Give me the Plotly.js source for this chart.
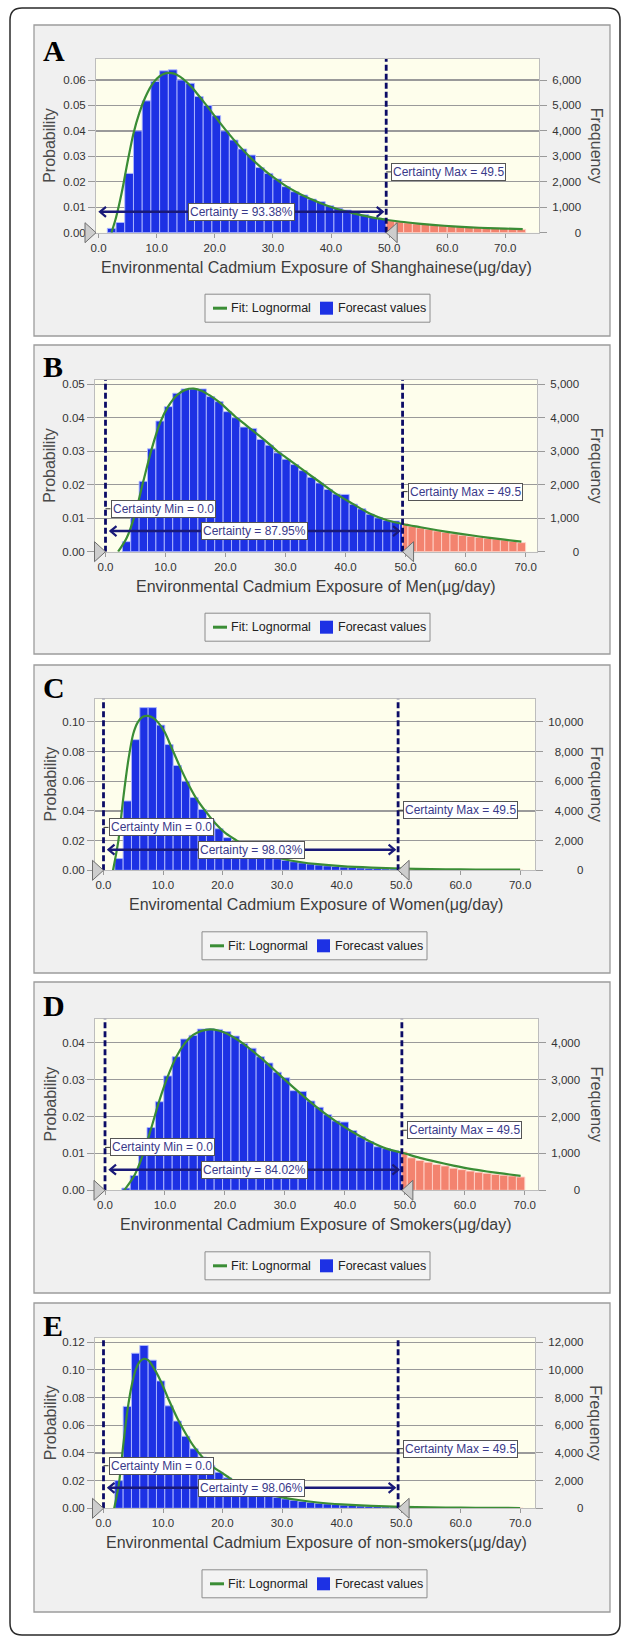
<!DOCTYPE html>
<html><head><meta charset="utf-8">
<script src="https://cdn.plot.ly/plotly-3.0.1.min.js"></script>
<style>html,body{margin:0;padding:0;background:#fff;}#chart{width:625px;height:1640px;}</style>
</head><body><div id="chart"></div>
<script>
// ---------------- DATA ----------------
const panelLetters = ['A','B','C','D','E'];
const xTitles = [
  'Environmental Cadmium Exposure of Shanghainese(\u03bcg/day)',
  'Environmental Cadmium Exposure of Men(\u03bcg/day)',
  'Enviromental Cadmium Exposure of Women(\u03bcg/day)',
  'Environmental Cadmium Exposure of Smokers(\u03bcg/day)',
  'Environmental Cadmium Exposure of non-smokers(\u03bcg/day)'
];
const certaintyMin = [null, 0.0, 0.0, 0.0, 0.0];
const certaintyMax = [49.5, 49.5, 49.5, 49.5, 49.5];
const certaintyPct = ['93.38%', '87.95%', '98.03%', '84.02%', '98.06%'];
const trials = 100000;               // Frequency = Probability x trials
const binOrigin = [0, 0, 0.5, 0, 0.5];
const binWidth  = [1.5, 1.4, 1.4, 1.4, 1.4];
const legendLabels = ['Fit: Lognormal', 'Forecast values'];

// histogram probabilities, one value per bin
const probA = [0, 0.0017, 0.004, 0.0233, 0.040, 0.0518, 0.0594, 0.0636, 0.064, 0.060,
  0.0587, 0.0535, 0.050, 0.046, 0.040, 0.0364, 0.0329, 0.0305, 0.0256, 0.0233,
  0.0211, 0.0181, 0.0161, 0.0148, 0.0132, 0.0122, 0.0106, 0.0096, 0.0089, 0.0083,
  0.0072, 0.006, 0.0056, 0.0047, 0.0043, 0.0039, 0.0035, 0.0033, 0.003, 0.0028,
  0.0025, 0.0024, 0.0022, 0.0021, 0.002, 0.0018, 0.0017, 0.0016, 0.0013];
const probB = [0, 0, 0.003, 0.011, 0.021, 0.0307, 0.039, 0.0433, 0.0473, 0.0486,
  0.0486, 0.0486, 0.0463, 0.0448, 0.0418, 0.040, 0.0372, 0.0368, 0.0335, 0.0318,
  0.0295, 0.0276, 0.026, 0.0242, 0.0222, 0.0205, 0.0186, 0.0172, 0.0171, 0.0142,
  0.0128, 0.0112, 0.0101, 0.0093, 0.0092, 0.0084, 0.0076, 0.0071, 0.0067, 0.0062,
  0.0058, 0.0053, 0.0049, 0.0046, 0.0043, 0.004, 0.0038, 0.0035, 0.0031, 0.0027];
const probC = [0, 0.0079, 0.0467, 0.088, 0.1096, 0.1096, 0.0978, 0.0847, 0.0706, 0.060,
  0.049, 0.041, 0.034, 0.028, 0.022, 0.018, 0.015, 0.0125, 0.0105, 0.009,
  0.0078, 0.0067, 0.0058, 0.005, 0.0043, 0.0036, 0.003, 0.0026, 0.0022, 0.0019,
  0.0016, 0.0014, 0.0012, 0.001, 0.0009, 0.0008, 0.0007, 0.0006, 0.0005, 0.0005,
  0.0004, 0.0004, 0.0003, 0.0003, 0.0003, 0.0002, 0.0002, 0.0002, 0.0001, 0.0001];
const probD = [0, 0, 0.0006, 0.004, 0.0095, 0.017, 0.024, 0.031, 0.0362, 0.041,
  0.042, 0.0437, 0.0438, 0.0436, 0.043, 0.0418, 0.0398, 0.0385, 0.0362, 0.0345,
  0.032, 0.0305, 0.027, 0.0268, 0.0242, 0.0225, 0.0205, 0.0188, 0.0185, 0.0162,
  0.0145, 0.0132, 0.0118, 0.0113, 0.0108, 0.0104, 0.0088, 0.0081, 0.0076, 0.007,
  0.0066, 0.006, 0.0056, 0.0052, 0.0049, 0.0046, 0.0043, 0.0041, 0.0039, 0.0036];
const probE = [0, 0.02, 0.0736, 0.112, 0.1176, 0.107, 0.092, 0.074, 0.063, 0.052,
  0.043, 0.037, 0.031, 0.026, 0.022, 0.018, 0.015, 0.013, 0.011, 0.0095,
  0.008, 0.0068, 0.0058, 0.005, 0.0043, 0.0037, 0.0032, 0.0027, 0.0023, 0.002,
  0.0017, 0.0015, 0.0013, 0.0011, 0.001, 0.0008, 0.0007, 0.0006, 0.0005, 0.0005,
  0.0004, 0.0004, 0.0003, 0.0003, 0.0003, 0.0002, 0.0002, 0.0002, 0.0001, 0.0001];

// fitted lognormal curves
const fitAx = [2.2,3,4,5,6,7,8,9,10,11,12,13,14,15,16,17,18,20,22,24,26,28,30,32,34,36,38,40,42,44,46,48,50,52,55,58,61,64,67,70,73];
const fitAy = [0,0.006,0.016,0.028,0.039,0.047,0.053,0.0575,0.0605,0.0622,0.0628,0.0625,0.0613,0.0595,0.0572,0.0545,0.0517,0.0458,0.040,0.0346,0.0298,0.0256,0.0219,0.0187,0.016,0.0137,0.0118,0.0101,0.0087,0.0075,0.0065,0.0056,0.0049,0.0043,0.0036,0.003,0.0025,0.0021,0.0018,0.0016,0.0014];
const fitBx = [2.1,3.5,4.9,6.3,7.7,9.1,10.5,11.9,13.3,14.7,16.1,17.5,18.9,20.3,21.7,23.1,24.5,25.9,27.3,28.7,30.1,32.9,35.7,38.5,41.3,44.1,46.9,49.7,52.5,55.3,58.1,60.9,63.7,66.5,69.3];
const fitBy = [0,0.004,0.011,0.021,0.0307,0.0385,0.0435,0.0467,0.0483,0.0487,0.048,0.0465,0.0447,0.0425,0.0402,0.0382,0.0362,0.0342,0.0321,0.0299,0.0281,0.0244,0.0208,0.0172,0.0142,0.0113,0.0094,0.0082,0.0073,0.0064,0.0056,0.0049,0.0042,0.0036,0.003];
const fitCx = [1.6,2.5,3.3,4.2,5,5.8,6.6,7.5,8.4,9.3,10.3,11.5,12.7,14,15.5,17.1,18.7,20.5,22.4,24.5,27,30,33,36,40,45,50,55,60,65,70];
const fitCy = [0,0.02,0.048,0.075,0.092,0.1,0.1035,0.104,0.1025,0.099,0.093,0.082,0.071,0.06,0.049,0.04,0.032,0.025,0.02,0.015,0.011,0.0078,0.0056,0.0041,0.0028,0.0018,0.0012,0.0008,0.0006,0.0005,0.0004];
const fitDx = [3.2,4.9,6.3,7.7,9.1,10.5,11.9,13.3,14.7,16.1,17.5,18.9,20.3,21.7,23.1,24.5,25.9,27.3,28.7,30.1,32.9,35.7,38.5,41.3,44.1,46.9,49.7,52.5,55.3,58.1,60.9,63.7,66.5,69.3];
const fitDy = [0,0.004,0.0095,0.0168,0.0245,0.031,0.0362,0.0398,0.0421,0.0432,0.0436,0.0433,0.0425,0.0412,0.0397,0.0379,0.036,0.034,0.0319,0.0298,0.0258,0.022,0.0187,0.0158,0.0133,0.0113,0.0101,0.0088,0.0077,0.0067,0.0058,0.0051,0.0045,0.0039];
const fitEx = [1.8,2.6,3.3,4.0,4.7,5.4,6.1,6.8,7.5,8.2,9.6,11,12.4,13.8,15.2,16.6,18,19.4,20.8,22.2,24,26,28,30,33,36,40,45,50,55,60,65,70];
const fitEy = [0,0.018,0.045,0.07,0.088,0.1,0.106,0.108,0.107,0.103,0.092,0.078,0.065,0.054,0.0445,0.037,0.031,0.027,0.023,0.019,0.0155,0.0125,0.0098,0.0079,0.0058,0.0042,0.0028,0.0017,0.0011,0.0007,0.0005,0.0003,0.0002];

// ---------------- LAYOUT / STYLE ----------------
const W = 625, H = 1640;
const X = px => px / W, Y = py => 1 - py / H;
const FONT = 'Liberation Sans, Arial, Helvetica, sans-serif';
const SERIF = 'Liberation Serif, Times New Roman, serif';
const BLUE = '#1d31e4', RED = '#f3836f', GREEN = '#3a8d35', NAVY = '#0c0c66';
const LABEL_TXT = '#3a3a8a';
const probs = [probA, probB, probC, probD, probE];
const fits = [[fitAx, fitAy], [fitBx, fitBy], [fitCx, fitCy], [fitDx, fitDy], [fitEx, fitEy]];
const geo = [
  {box:[34,25,610,336],   plot:[96,59,539,232.7],     xr:[-0.45,75.8], yr:[0,0.06825], ydt:0.01, fdt:1000, legX:205, letterY:50},
  {box:[34,345,610,654],  plot:[95,380,537,551.7],    xr:[-1.75,71.9], yr:[0,0.05125], ydt:0.01, fdt:1000, legX:205, letterY:367},
  {box:[34,665,610,973],  plot:[95,698.7,535,870.3],  xr:[-1.43,72.5], yr:[0,0.1156],  ydt:0.02, fdt:2000, legX:202, letterY:688},
  {box:[34,982,610,1293], plot:[95,1018.7,538,1190.3],xr:[-1.67,72.2], yr:[0,0.0465],  ydt:0.01, fdt:1000, legX:205, letterY:1005},
  {box:[34,1303,610,1612],plot:[95,1338,535,1508.3],  xr:[-1.43,72.5], yr:[0,0.123],   ydt:0.02, fdt:2000, legX:202, letterY:1325}
];

const traces = [], shapes = [], annotations = [];
const layout = {
  width: W, height: H, autosize: false,
  margin: {l:0, r:0, t:0, b:0, pad:0},
  paper_bgcolor: '#ffffff', plot_bgcolor: 'rgba(0,0,0,0)',
  font: {family: FONT, color: '#333', size: 11.5},
  showlegend: false, hovermode: false, barmode: 'overlay'
};

// outer rounded frame
(function(){
  const l=10, t=8, R=620, B=1635, r=12;
  const p = `M${X(l+r)},${Y(t)} L${X(R-r)},${Y(t)} Q${X(R)},${Y(t)} ${X(R)},${Y(t+r)} L${X(R)},${Y(B-r)} Q${X(R)},${Y(B)} ${X(R-r)},${Y(B)} L${X(l+r)},${Y(B)} Q${X(l)},${Y(B)} ${X(l)},${Y(B-r)} L${X(l)},${Y(t+r)} Q${X(l)},${Y(t)} ${X(l+r)},${Y(t)} Z`;
  shapes.push({type:'path', xref:'paper', yref:'paper', path:p, line:{color:'#2a2a2a', width:1.5}, fillcolor:'rgba(0,0,0,0)', layer:'below'});
})();

function freqTicks(maxVal, step){
  const vals = [];
  for (let v = 0; v <= maxVal + 1e-6; v += step) vals.push(v);
  const txt = vals.map(v => v.toLocaleString('en-US'));
  const dig = s => (s.match(/\d/g) || []).length, com = s => (s.match(/,/g) || []).length;
  const dMax = Math.max(...txt.map(dig)), cMax = Math.max(...txt.map(com));
  return {vals, text: txt.map(s => '\u2007'.repeat(dMax - dig(s)) + '\u2008'.repeat(cMax - com(s)) + s)};
}

geo.forEach((g, i) => {
  const xId = i === 0 ? 'x' : 'x' + (i + 1);
  const yNum = 2 * i + 1, y2Num = 2 * i + 2;
  const yId = yNum === 1 ? 'y' : 'y' + yNum, y2Id = 'y' + y2Num;
  const xKey = 'xaxis' + (i === 0 ? '' : i + 1), yKey = 'yaxis' + (yNum === 1 ? '' : yNum), y2Key = 'yaxis' + y2Num;
  const [pl, pt, pr, pb] = g.plot;
  const dpp = (g.xr[1] - g.xr[0]) / (pr - pl);
  const ytop = g.yr[1];
  const cmin = certaintyMin[i], cmax = certaintyMax[i];

  // panel box + plot background
  shapes.push({type:'rect', xref:'paper', yref:'paper', x0:X(g.box[0]), x1:X(g.box[2]), y0:Y(g.box[3]), y1:Y(g.box[1]),
    fillcolor:'#f0f0f0', line:{color:'#9c9c9c', width:1.3}, layer:'below'});
  shapes.push({type:'rect', xref:'paper', yref:'paper', x0:X(pl), x1:X(pr), y0:Y(pb), y1:Y(pt),
    fillcolor:'#fefeec', line:{width:0}, layer:'below'});

  // histogram bars split at certainty max
  const blue = {x:[], y:[], w:[]}, red = {x:[], y:[], w:[]};
  const push = (o, a, b, p) => { o.x.push((a + b) / 2); o.y.push(p); o.w.push(b - a); };
  probs[i].forEach((p, k) => {
    if (!(p > 0)) return;
    const s = binOrigin[i] + k * binWidth[i], e = s + binWidth[i];
    if (e <= cmax + 1e-9) push(blue, s, e, p);
    else if (s >= cmax - 1e-9) push(red, s, e, p);
    else { push(blue, s, cmax, p); push(red, cmax, e, p); }
  });
  traces.push({type:'bar', name:legendLabels[1], x:blue.x, y:blue.y, width:blue.w, xaxis:xId, yaxis:yId,
    marker:{color:BLUE, line:{color:'rgba(175,185,255,0.9)', width:1}}, hoverinfo:'skip'});
  traces.push({type:'bar', name:'Outside certainty', x:red.x, y:red.y, width:red.w, xaxis:xId, yaxis:yId,
    marker:{color:RED, line:{color:'rgba(255,210,200,0.9)', width:1}}, hoverinfo:'skip'});
  traces.push({type:'scatter', mode:'lines', name:legendLabels[0], x:fits[i][0], y:fits[i][1], xaxis:xId, yaxis:yId,
    line:{color:GREEN, width:2.2, shape:'spline', smoothing:0.8}, hoverinfo:'skip'});
  traces.push({type:'scatter', mode:'lines', x:[], y:[], xaxis:xId, yaxis:y2Id, hoverinfo:'skip'});

  // axes
  const tf = {family: FONT, size: 11.5, color: '#333'};
  layout[xKey] = {domain:[X(pl), X(pr)], range:g.xr, anchor:yId, tickmode:'linear', tick0:0, dtick:10, tickformat:'.1f',
    ticks:'outside', ticklen:4, tickcolor:'#9a9a9a', showline:true, linecolor:'#bdbdbd', linewidth:1, mirror:true,
    showgrid:false, zeroline:false, tickfont:tf, fixedrange:true};
  layout[yKey] = {domain:[Y(pb), Y(pt)], range:g.yr, anchor:xId, tickmode:'linear', tick0:0, dtick:g.ydt, tickformat:'.2f',
    ticks:'outside', ticklen:7, tickcolor:'#9a9a9a', showgrid:true, gridcolor:'#9a9a9a', gridwidth:1.2,
    showline:true, linecolor:'#bdbdbd', linewidth:1, mirror:true, zeroline:false, tickfont:tf, fixedrange:true};
  const ft = freqTicks(ytop * trials, g.fdt);
  layout[y2Key] = {overlaying:yId, side:'right', anchor:xId, range:[0, ytop * trials], tickmode:'array',
    tickvals:ft.vals, ticktext:ft.text, ticks:'outside', ticklen:7, tickcolor:'#9a9a9a', showgrid:false,
    zeroline:false, showline:false, tickfont:tf, ticklabelstandoff:3, fixedrange:true};

  // certainty lines, labels, arrow, grabbers
  const lineStyle = {color:NAVY, width:2.8, dash:'6px,3px'};
  const labelStyle = {showarrow:false, bgcolor:'#ffffff', bordercolor:'#555', borderwidth:1, borderpad:1,
    font:{family:FONT, size:12, color:LABEL_TXT}, yanchor:'middle'};
  const domRefX = xId + ' domain', domRefY = yId + ' domain';
  const frac = v => (v - g.xr[0]) / (g.xr[1] - g.xr[0]);
  const grab = (f, dir) => shapes.push({type:'path', xref:domRefX, yref:domRefY, xsizemode:'pixel', ysizemode:'pixel',
    xanchor:f, yanchor:0, path: dir > 0 ? 'M0,0 L11,10 L11,-10 Z' : 'M0,0 L-11,10 L-11,-10 Z',
    fillcolor:'#cdcdcd', line:{color:'#6e6e6e', width:1}, layer:'above'});

  let arrowStart;
  if (cmin !== null) {
    shapes.push({type:'line', xref:xId, yref:yId, x0:cmin, x1:cmin, y0:0, y1:ytop, line:lineStyle, layer:'above'});
    shapes.push({type:'line', xref:xId, yref:yId, xsizemode:'pixel', xanchor:cmin, x0:0, x1:5,
      y0:ytop * 0.25, y1:ytop * 0.25, line:{color:'#333', width:1}, layer:'above'});
    annotations.push(Object.assign({xref:xId, yref:yId, x:cmin, y:ytop * 0.25, xanchor:'left', xshift:5,
      text:'Certainty Min = ' + cmin.toFixed(1)}, labelStyle));
    arrowStart = cmin + 5 * dpp;
    grab(frac(cmin), -1);
  } else {
    arrowStart = g.xr[0] + 4 * dpp;
    grab(0, -1);
  }
  shapes.push({type:'line', xref:xId, yref:yId, x0:cmax, x1:cmax, y0:0, y1:ytop, line:lineStyle, layer:'above'});
  shapes.push({type:'line', xref:xId, yref:yId, xsizemode:'pixel', xanchor:cmax, x0:0, x1:5,
    y0:ytop * 0.35, y1:ytop * 0.35, line:{color:'#333', width:1}, layer:'above'});
  annotations.push(Object.assign({xref:xId, yref:yId, x:cmax, y:ytop * 0.35, xanchor:'left', xshift:5,
    text:'Certainty Max = ' + cmax.toFixed(1)}, labelStyle));
  grab(frac(cmax), 1);

  const arrowEnd = cmax - 3.5 * dpp, ay = ytop * 0.12;
  shapes.push({type:'line', xref:xId, yref:yId, x0:arrowStart, x1:arrowEnd, y0:ay, y1:ay, line:{color:'#1a1a78', width:2.5}, layer:'above'});
  shapes.push({type:'path', xref:xId, yref:yId, xsizemode:'pixel', ysizemode:'pixel', xanchor:arrowStart, yanchor:ay,
    path:'M6,5 L0,0 L6,-5', line:{color:'#1a1a78', width:2.2}, layer:'above'});
  shapes.push({type:'path', xref:xId, yref:yId, xsizemode:'pixel', ysizemode:'pixel', xanchor:arrowEnd, yanchor:ay,
    path:'M-6,5 L0,0 L-6,-5', line:{color:'#1a1a78', width:2.2}, layer:'above'});
  annotations.push(Object.assign({xref:xId, yref:yId, x:(arrowStart + arrowEnd) / 2, y:ay, xanchor:'center',
    text:'Certainty = ' + certaintyPct[i]}, labelStyle));

  // titles and panel letter
  annotations.push({xref:'paper', yref:'paper', x:X(41), y:Y(g.letterY), xanchor:'left', yanchor:'middle', showarrow:false,
    text:'<b>' + panelLetters[i] + '</b>', font:{family:SERIF, size:30, color:'#000'}});
  annotations.push({xref:'paper', yref:'paper', x:X(316), y:Y(pb + 34.5), xanchor:'center', yanchor:'middle', showarrow:false,
    text:xTitles[i], font:{family:FONT, size:16, color:'#3c3c3c'}});
  annotations.push({xref:'paper', yref:'paper', x:X(50), y:Y((pt + pb) / 2), xanchor:'center', yanchor:'middle', showarrow:false,
    textangle:-90, text:'Probability', font:{family:FONT, size:16, color:'#4a4a4a'}});
  annotations.push({xref:'paper', yref:'paper', x:X(596), y:Y((pt + pb) / 2), xanchor:'center', yanchor:'middle', showarrow:false,
    textangle:90, text:'Frequency', font:{family:FONT, size:16, color:'#4a4a4a'}});

  // legend (drawn)
  const cy = pb + 75.5, lx = g.legX;
  shapes.push({type:'rect', xref:'paper', yref:'paper', x0:X(lx), x1:X(lx + 225), y0:Y(cy + 14), y1:Y(cy - 14),
    fillcolor:'#f3f3f3', line:{color:'#8c8c8c', width:1}, layer:'below'});
  shapes.push({type:'line', xref:'paper', yref:'paper', x0:X(lx + 8), x1:X(lx + 22), y0:Y(cy), y1:Y(cy),
    line:{color:GREEN, width:3}, layer:'above'});
  shapes.push({type:'rect', xref:'paper', yref:'paper', x0:X(lx + 115), x1:X(lx + 128), y0:Y(cy + 6.5), y1:Y(cy - 6.5),
    fillcolor:BLUE, line:{width:0}, layer:'above'});
  annotations.push({xref:'paper', yref:'paper', x:X(lx + 24), y:Y(cy), xanchor:'left', yanchor:'middle', showarrow:false,
    text:legendLabels[0], font:{family:FONT, size:12.5, color:'#222'}});
  annotations.push({xref:'paper', yref:'paper', x:X(lx + 131), y:Y(cy), xanchor:'left', yanchor:'middle', showarrow:false,
    text:legendLabels[1], font:{family:FONT, size:12.5, color:'#222'}});
});

layout.shapes = shapes;
layout.annotations = annotations;
Plotly.newPlot('chart', traces, layout, {staticPlot:true, displayModeBar:false});
</script>
</body></html>
